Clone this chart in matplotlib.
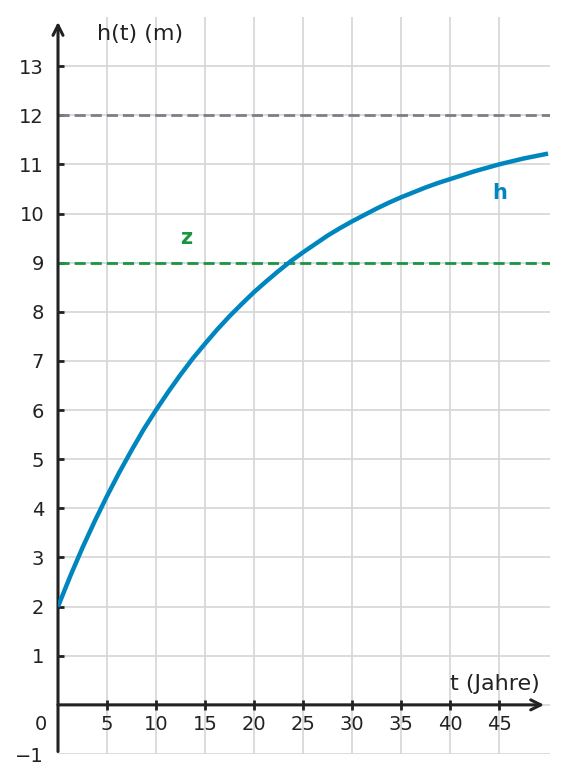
import numpy as np
import matplotlib
matplotlib.use("Agg")
import matplotlib.pyplot as plt

# Werte (t in Jahren, h in m)
t_werte = [0, 1.25, 2.5, 3.75, 5, 6.25, 7.5, 8.75, 10, 11.25, 12.5, 13.75,
           15, 16.25, 17.5, 18.75, 20, 21.25, 22.5, 23.75, 25, 26.25, 27.5,
           28.75, 30, 31.25, 32.5, 33.75, 35, 36.25, 37.5, 38.75, 40, 41.25,
           42.5, 43.75, 45, 46.25, 47.5, 48.75, 50]
h_werte = [2.0, 2.62, 3.2, 3.74, 4.25, 4.73, 5.18, 5.61, 6.0, 6.37, 6.72,
           7.05, 7.35, 7.64, 7.91, 8.16, 8.4, 8.62, 8.83, 9.03, 9.21, 9.38,
           9.55, 9.7, 9.84, 9.97, 10.1, 10.22, 10.33, 10.43, 10.53, 10.62,
           10.7, 10.78, 10.86, 10.93, 11.0, 11.06, 11.12, 11.17, 11.22]
z_wert = 9
grenze = 12

x_ticks = [5, 10, 15, 20, 25, 30, 35, 40, 45]
y_ticks = [-1, 1, 2, 3, 4, 5, 6, 7, 8, 9, 10, 11, 12, 13]
y_labels = ["\u22121"] + [str(v) for v in y_ticks[1:]]

dunkel = "#222222"
blau = "#0086bf"
gruen = "#1a9641"
grau = "#7b8086"

plt.rcParams['font.family'] = ['DejaVu Sans']

fig = plt.figure(figsize=(5.67, 7.83), dpi=100)
ax = fig.add_axes([58 / 567, 29 / 783, 492 / 567, 737 / 783])
ax.set_xlim(0, 50.2)
ax.set_ylim(-1, 14)

# Gitter
for x in x_ticks:
    ax.axvline(x, color="#d6d6d6", lw=1.2, zorder=0)
for y in range(-1, 14):
    ax.axhline(y, color="#d6d6d6", lw=1.2, zorder=0)

# Achsen
for s in ["top", "right"]:
    ax.spines[s].set_visible(False)
ax.spines["bottom"].set_position(("data", 0))
ax.spines["left"].set_position(("data", 0))
ax.spines["bottom"].set_color("none")
ax.spines["left"].set_color("none")
ax.annotate("", xy=(49.6, 0), xytext=(0, 0),
            arrowprops=dict(arrowstyle="->", lw=2.2, color=dunkel,
                            mutation_scale=18, shrinkA=0, shrinkB=0))
ax.annotate("", xy=(0, 13.9), xytext=(0, -0.95),
            arrowprops=dict(arrowstyle="->", lw=2.2, color=dunkel,
                            mutation_scale=18, shrinkA=0, shrinkB=0))

ax.set_xticks(x_ticks)
ax.set_yticks(y_ticks)
ax.set_yticklabels(y_labels)
ax.tick_params(axis="x", direction="inout", length=7, width=2, color=dunkel,
               labelsize=14, labelcolor=dunkel, pad=4)
ax.tick_params(axis="y", direction="in", length=4, width=2, color=dunkel,
               labelsize=14, labelcolor=dunkel, pad=10)
ax.yaxis.get_major_ticks()[0].tick1line.set_visible(False)

ax.text(-1.75, -0.4, "0", fontsize=14, color=dunkel, ha="center",
        va="center", clip_on=False)

# Linien
ax.axhline(grenze, color=grau, lw=2, ls=(0, (4, 1.8)), zorder=2)
ax.axhline(z_wert, color=gruen, lw=2, ls=(0, (4, 1.8)), zorder=2)
ax.plot(t_werte, h_werte, color=blau, lw=3.2, zorder=3,
        solid_capstyle="butt", solid_joinstyle="round")

# Beschriftungen
ax.text(4.0, 13.65, "h(t) (m)", fontsize=16, color=dunkel, ha="left",
        va="center")
ax.text(49.2, 0.42, "t (Jahre)", fontsize=16, color=dunkel, ha="right",
        va="center")
ax.text(45.1, 10.42, "h", fontsize=15, color=blau, fontweight="bold",
        ha="center", va="center")
ax.text(13.1, 9.5, "z", fontsize=15, color=gruen, fontweight="bold",
        ha="center", va="center")

fig.savefig("out.png", dpi=100)
